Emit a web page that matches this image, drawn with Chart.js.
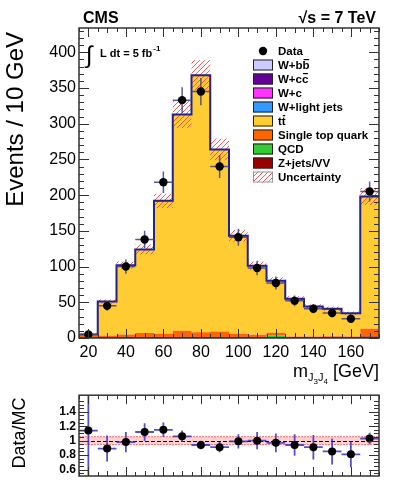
<!DOCTYPE html>
<html>
<head>
<meta charset="utf-8">
<script src="https://cdn.jsdelivr.net/npm/chart.js@4.4.1/dist/chart.umd.min.js"></script>
<style>
  html, body { margin: 0; padding: 0; background: #fff; }
  #wrap { position: relative; width: 399px; height: 487px; }
  #mainBox { position: absolute; left: 0; top: 0; width: 399px; height: 385px; }
  #ratioBox { position: absolute; left: 0; top: 385px; width: 399px; height: 102px; }
</style>
</head>
<body>
<div id="wrap">
  <div id="mainBox"><canvas id="mainChart"></canvas></div>
  <div id="ratioBox"><canvas id="ratioChart"></canvas></div>
</div>
<script>
// m_J3J4 distribution, 10 GeV bins (last bin = overflow)

const binEdges   = [15, 25, 35, 45, 55, 65, 75, 85, 95, 105, 115, 125, 135, 145, 155, 165, 175];
const binCenters = [20, 30, 40, 50, 60, 70, 80, 90, 100, 110, 120, 130, 140, 150, 160, 170];

// stacked MC components (bottom to top)
const zjetsVV   = [1, 1.5, 1.5, 1.5, 1.5, 1.5, 1.5, 1.5, 1.5, 1.5, 1.5, 1.5, 1.5, 1.5, 1.5, 2];
const qcd       = [0, 0, 0, 0, 0, 0, 0, 0, 0, 0, 2, 0, 0, 0, 0, 0];
const singleTop = [2, 1.5, 3.5, 5.5, 4.5, 8.5, 6.5, 7.5, 4.5, 3, 4, 0.5, 0.5, 1, 0.5, 11];
const ttbar     = [0.7, 46.7, 95.7, 115.7, 184.7, 301.7, 358.7, 253.7, 135.7, 95.2, 71.2, 51.7, 40.7, 37.2, 31.2, 183.7];
const wLight    = [0.5, 0.5, 0.5, 0.5, 0.5, 0.5, 0.5, 0.5, 0.5, 0.5, 0.5, 0.5, 0.5, 0.5, 0.5, 0.5];
const wc        = [0.2, 0.2, 0.2, 0.2, 0.2, 0.2, 0.2, 0.2, 0.2, 0.2, 0.2, 0.2, 0.2, 0.2, 0.2, 0.2];
const wcc       = [0.3, 0.3, 0.3, 0.3, 0.3, 0.3, 0.3, 0.3, 0.3, 0.3, 0.3, 0.3, 0.3, 0.3, 0.3, 0.3];
const wbb       = [0.3, 0.3, 0.3, 0.3, 0.3, 0.3, 0.3, 0.3, 0.3, 0.3, 0.3, 0.3, 0.3, 0.3, 0.3, 0.3];
const mcUnc     = [1, 3, 5, 7, 10, 19, 21, 15, 8, 6, 5, 3.5, 3, 3, 2.5, 12];

// data
const dataCounts = [5, 45, 100, 138, 218, 333, 345, 240, 141, 98, 77, 52, 41, 35, 27, 205];
const dataErr    = [2.5, 7, 10, 12, 15, 18, 19, 16, 12, 10, 9, 7.5, 6.5, 6, 5.5, 14];

// ratio panel
const ratioValues = [1.14, 0.89, 0.98, 1.12, 1.15, 1.06, 0.94, 0.91, 0.99, 1.0, 0.97, 0.94, 0.91, 0.85, 0.81, 1.03];
const ratioErr    = [1.2, 0.18, 0.14, 0.12, 0.1, 0.08, 0.06, 0.07, 0.1, 0.12, 0.13, 0.15, 0.17, 0.18, 0.18, 0.08];
const ratioBand   = 0.055;

// tick labels
const yTicks     = [0, 50, 100, 150, 200, 250, 300, 350, 400];
const xTicks     = [20, 40, 60, 80, 100, 120, 140, 160];
const ratioTicks = [0.6, 0.8, 1, 1.2, 1.4];

Chart.defaults.font.family = "'Liberation Sans', Arial, sans-serif";
Chart.defaults.color = '#000';
Chart.defaults.animation = false;

const FONT = "'Liberation Sans', Arial, sans-serif";

// components in stack order, with legend names and colours
const components = [
    { label: 'Z+jets/VV', values: zjetsVV, color: '#990000' },
    { label: 'QCD', values: qcd, color: '#33cc33' },
    { label: 'Single top quark', values: singleTop, color: '#ff6600' },
    { label: 'tt\u0305', values: ttbar, color: '#ffcc33' },
    { label: 'W+light jets', values: wLight, color: '#3399ff' },
    { label: 'W+c', values: wc, color: '#ff33ff' },
    { label: 'W+cc\u0305', values: wcc, color: '#660099' },
    { label: 'W+bb\u0305', values: wbb, color: '#ccccff' }
];

// cumulative sums -> stepped histogram points
let running = binCenters.map(() => 0);
const stackSets = components.map((c, idx) => {
    running = running.map((v, i) => v + c.values[i]);
    const pts = binEdges.slice(0, -1).map((e, i) => ({ x: e, y: running[i] }));
    pts.push({ x: binEdges[binEdges.length - 1], y: running[running.length - 1] });
    return {
        label: c.label,
        data: pts,
        stepped: true,
        borderWidth: 0,
        borderColor: c.color,
        backgroundColor: c.color,
        fill: idx === 0 ? 'origin' : '-1',
        pointRadius: 0
    };
});
const totalMC = running.slice();

// hatch pattern for the uncertainty
function makeHatch() {
    const c = document.createElement('canvas');
    c.width = 5; c.height = 5;
    const g = c.getContext('2d');
    g.strokeStyle = 'rgba(255,70,70,0.9)';
    g.lineWidth = 1;
    g.beginPath();
    g.moveTo(0, 5); g.lineTo(5, 0);
    g.moveTo(-1, 1); g.lineTo(1, -1);
    g.moveTo(4, 6); g.lineTo(6, 4);
    g.stroke();
    return c;
}
const hatchCanvas = makeHatch();

// draw text with overlines for combining U+0305
function drawBarText(ctx, text, x, y) {
    let cx = x;
    const chars = Array.from(text);
    for (let i = 0; i < chars.length; i++) {
        const ch = chars[i];
        if (ch === '\u0305') continue;
        const w = ctx.measureText(ch).width;
        ctx.fillText(ch, cx, y);
        if (chars[i + 1] === '\u0305') {
            ctx.fillRect(cx + 1, y - 7, w - 1.5, 1.2);
        }
        cx += w;
    }
}

// inward ticks on the frame
function drawFrameTicks(ctx, area, xs, ys, xList, yList) {
    ctx.save();
    ctx.strokeStyle = '#333';
    ctx.lineWidth = 1;
    ctx.beginPath();
    xList.forEach(t => {
        const px = Math.round(xs.getPixelForValue(t.v)) + 0.5;
        ctx.moveTo(px, area.bottom); ctx.lineTo(px, area.bottom - t.len);
        ctx.moveTo(px, area.top); ctx.lineTo(px, area.top + t.len);
    });
    yList.forEach(t => {
        const py = Math.round(ys.getPixelForValue(t.v)) + 0.5;
        ctx.moveTo(area.left, py); ctx.lineTo(area.left + t.len, py);
        ctx.moveTo(area.right, py); ctx.lineTo(area.right - t.len, py);
    });
    ctx.stroke();
    ctx.lineWidth = 1.5;
    ctx.strokeRect(area.left, area.top, area.right - area.left, area.bottom - area.top);
    ctx.restore();
}

function xTickList() {
    const out = [];
    for (let v = 15; v <= 175; v += 5) {
        out.push({ v: v, len: v % 20 === 0 ? 9 : (v % 10 === 0 ? 5 : 4) });
    }
    return out;
}

const mainPlugin = {
    id: 'mainExtras',
    afterDatasetsDraw(chart) {
        const ctx = chart.ctx;
        const xs = chart.scales.x, ys = chart.scales.y;
        const area = chart.chartArea;
        ctx.save();
        ctx.beginPath();
        ctx.rect(area.left, area.top, area.right - area.left, area.bottom - area.top);
        ctx.clip();

        // uncertainty hatch
        ctx.fillStyle = ctx.createPattern(hatchCanvas, 'repeat');
        binCenters.forEach((c, i) => {
            const x0 = xs.getPixelForValue(binEdges[i]);
            const x1 = xs.getPixelForValue(binEdges[i + 1]);
            const y0 = ys.getPixelForValue(totalMC[i] + mcUnc[i]);
            const y1 = ys.getPixelForValue(totalMC[i] - mcUnc[i]);
            ctx.fillRect(x0, y0, x1 - x0, y1 - y0);
        });

        // total MC outline
        ctx.strokeStyle = '#22228c';
        ctx.lineWidth = 2;
        ctx.beginPath();
        binCenters.forEach((c, i) => {
            const x0 = xs.getPixelForValue(binEdges[i]);
            const x1 = xs.getPixelForValue(binEdges[i + 1]);
            const y = ys.getPixelForValue(totalMC[i]);
            if (i === 0) ctx.moveTo(x0, ys.getPixelForValue(0));
            ctx.lineTo(x0, y);
            ctx.lineTo(x1, y);
        });
        ctx.stroke();

        // data with error bars
        ctx.strokeStyle = 'rgba(70,70,150,0.9)';
        ctx.lineWidth = 1.5;
        binCenters.forEach((c, i) => {
            const px = xs.getPixelForValue(c);
            const py = ys.getPixelForValue(dataCounts[i]);
            ctx.beginPath();
            ctx.moveTo(xs.getPixelForValue(c - 5), py);
            ctx.lineTo(xs.getPixelForValue(c + 5), py);
            ctx.moveTo(px, ys.getPixelForValue(dataCounts[i] + dataErr[i]));
            ctx.lineTo(px, ys.getPixelForValue(dataCounts[i] - dataErr[i]));
            ctx.stroke();
        });
        ctx.fillStyle = '#000';
        binCenters.forEach((c, i) => {
            ctx.beginPath();
            ctx.arc(xs.getPixelForValue(c), ys.getPixelForValue(dataCounts[i]), 4.2, 0, Math.PI * 2);
            ctx.fill();
        });
        ctx.restore();

        // frame and ticks
        const yList = [];
        for (let v = 0; v <= 430; v += 10) yList.push({ v: v, len: v % 50 === 0 ? 10 : 5 });
        drawFrameTicks(ctx, area, xs, ys, xTickList(), yList);

        // legend
        ctx.save();
        ctx.font = 'bold 11.5px ' + FONT;
        ctx.textBaseline = 'middle';
        const legendRows = [{ label: 'Data', kind: 'dot' }]
            .concat(components.slice().reverse().map(c => ({ label: c.label, kind: 'box', color: c.color })))
            .concat([{ label: 'Uncertainty', kind: 'hatch' }]);
        legendRows.forEach((r, i) => {
            const yc = 51 + 14 * i;
            if (r.kind === 'dot') {
                ctx.fillStyle = '#000';
                ctx.beginPath();
                ctx.arc(263, yc, 4.2, 0, Math.PI * 2);
                ctx.fill();
            } else {
                ctx.fillStyle = r.kind === 'hatch' ? ctx.createPattern(hatchCanvas, 'repeat') : r.color;
                ctx.fillRect(253, yc - 5.5, 20, 11);
                ctx.strokeStyle = r.kind === 'hatch' ? '#999' : '#222';
                ctx.lineWidth = 1;
                ctx.strokeRect(253.5, yc - 5, 19, 10);
            }
            ctx.fillStyle = '#000';
            drawBarText(ctx, r.label, 278, yc + 1);
        });
        ctx.restore();

        // annotations
        ctx.save();
        ctx.fillStyle = '#000';
        ctx.textBaseline = 'alphabetic';
        ctx.font = 'bold 16px ' + FONT;
        ctx.textAlign = 'left';
        ctx.fillText('CMS', 83, 23);
        ctx.textAlign = 'right';
        ctx.fillText('\u221As = 7 TeV', 376, 23);
        ctx.textAlign = 'left';
        ctx.font = '24px ' + FONT;
        ctx.fillText('\u222B', 86, 63);
        ctx.font = 'bold 11px ' + FONT;
        ctx.fillText('L dt = 5 fb', 100, 57);
        const w = ctx.measureText('L dt = 5 fb').width;
        ctx.font = 'bold 8px ' + FONT;
        ctx.fillText('-1', 100 + w + 1, 51);

        // y title
        ctx.save();
        ctx.translate(23, 32);
        ctx.rotate(-Math.PI / 2);
        ctx.font = '24px ' + FONT;
        ctx.textAlign = 'right';
        ctx.fillText('Events / 10 GeV', 0, 0);
        ctx.restore();

        // x title: m_{J3J4} [GeV], right aligned
        const parts = [
            { t: 'm', f: '18px ', dy: 0 },
            { t: 'J', f: '11px ', dy: 4 },
            { t: '3', f: '8px ', dy: 7 },
            { t: 'J', f: '11px ', dy: 4 },
            { t: '4', f: '8px ', dy: 7 },
            { t: ' [GeV]', f: '18px ', dy: 0 }
        ];
        let total = 0;
        parts.forEach(p => { ctx.font = p.f + FONT; p.w = ctx.measureText(p.t).width; total += p.w; });
        let cx = 379 - total;
        ctx.textAlign = 'left';
        parts.forEach(p => { ctx.font = p.f + FONT; ctx.fillText(p.t, cx, 377 + p.dy); cx += p.w; });
        ctx.restore();
    }
};

const mainChart = new Chart(document.getElementById('mainChart').getContext('2d'), {
    type: 'line',
    data: { datasets: stackSets },
    plugins: [mainPlugin],
    options: {
        responsive: true,
        maintainAspectRatio: false,
        layout: { padding: { left: 0, right: 20, top: 28, bottom: 0 } },
        plugins: { legend: { display: false }, tooltip: { enabled: false } },
        scales: {
            x: {
                type: 'linear',
                min: 15, max: 175,
                grid: { display: false, drawTicks: false },
                border: { display: false },
                afterBuildTicks: s => { s.ticks = xTicks.map(v => ({ value: v })); },
                afterFit: s => { s.height = 47; },
                ticks: { font: { size: 16 }, padding: 5, maxRotation: 0, autoSkip: false }
            },
            y: {
                type: 'linear',
                min: 0, max: 434,
                grid: { display: false, drawTicks: false },
                border: { display: false },
                afterBuildTicks: s => { s.ticks = yTicks.map(v => ({ value: v })); },
                afterFit: s => { s.width = 79; },
                ticks: { font: { size: 16 }, padding: 3 }
            }
        }
    }
});

// Ratio panel

const ratioPlugin = {
    id: 'ratioExtras',
    afterDatasetsDraw(chart) {
        const ctx = chart.ctx;
        const xs = chart.scales.x, ys = chart.scales.y;
        const area = chart.chartArea;
        ctx.save();
        ctx.beginPath();
        ctx.rect(area.left, area.top, area.right - area.left, area.bottom - area.top);
        ctx.clip();

        // MC uncertainty band around 1
        const yb0 = ys.getPixelForValue(1 + ratioBand);
        const yb1 = ys.getPixelForValue(1 - ratioBand);
        ctx.fillStyle = 'rgba(255,120,120,0.35)';
        ctx.fillRect(area.left, yb0, area.right - area.left, yb1 - yb0);
        ctx.strokeStyle = 'rgba(255,60,60,0.7)';
        ctx.lineWidth = 1;
        ctx.setLineDash([2, 1]);
        ctx.beginPath();
        ctx.moveTo(area.left, yb0); ctx.lineTo(area.right, yb0);
        ctx.moveTo(area.left, yb1); ctx.lineTo(area.right, yb1);
        ctx.stroke();
        ctx.strokeStyle = '#000';
        ctx.setLineDash([4, 2]);
        const y1 = Math.round(ys.getPixelForValue(1)) + 0.5;
        ctx.beginPath();
        ctx.moveTo(area.left, y1); ctx.lineTo(area.right, y1);
        ctx.stroke();
        ctx.setLineDash([]);

        // points with error bars
        ctx.strokeStyle = 'rgba(50,50,200,0.85)';
        ctx.lineWidth = 1.8;
        binCenters.forEach((c, i) => {
            const px = xs.getPixelForValue(c);
            const py = ys.getPixelForValue(ratioValues[i]);
            ctx.beginPath();
            ctx.moveTo(xs.getPixelForValue(c - 5), py);
            ctx.lineTo(xs.getPixelForValue(c + 5), py);
            ctx.moveTo(px, ys.getPixelForValue(ratioValues[i] + ratioErr[i]));
            ctx.lineTo(px, ys.getPixelForValue(ratioValues[i] - ratioErr[i]));
            ctx.stroke();
        });
        ctx.fillStyle = '#000';
        binCenters.forEach((c, i) => {
            ctx.beginPath();
            ctx.arc(xs.getPixelForValue(c), ys.getPixelForValue(ratioValues[i]), 4, 0, Math.PI * 2);
            ctx.fill();
        });
        ctx.restore();

        const yList = [];
        for (let v = 0.55; v <= 1.6; v += 0.05) {
            const r = Math.round(v * 100) / 100;
            yList.push({ v: r, len: Math.round(r * 100) % 20 === 0 ? 10 : 5 });
        }
        drawFrameTicks(ctx, area, xs, ys, xTickList(), yList);

        ctx.save();
        ctx.fillStyle = '#000';
        ctx.translate(25, 433 - 385);
        ctx.rotate(-Math.PI / 2);
        ctx.font = '18px ' + FONT;
        ctx.textAlign = 'center';
        ctx.fillText('Data/MC', 0, 0);
        ctx.restore();
    }
};

const ratioChart = new Chart(document.getElementById('ratioChart').getContext('2d'), {
    type: 'scatter',
    data: { datasets: [{ label: 'Data/MC', data: binCenters.map((c, i) => ({ x: c, y: ratioValues[i] })), pointRadius: 0 }] },
    plugins: [ratioPlugin],
    options: {
        responsive: true,
        maintainAspectRatio: false,
        layout: { padding: { left: 0, right: 20, top: 5, bottom: 0 } },
        plugins: { legend: { display: false }, tooltip: { enabled: false } },
        scales: {
            x: {
                type: 'linear',
                min: 15, max: 175,
                grid: { display: false, drawTicks: false },
                border: { display: false },
                ticks: { display: false },
                afterFit: s => { s.height = 11; }
            },
            y: {
                type: 'linear',
                min: 0.51, max: 1.63,
                grid: { display: false, drawTicks: false },
                border: { display: false },
                afterBuildTicks: s => { s.ticks = ratioTicks.map(v => ({ value: v })); },
                afterFit: s => { s.width = 79; },
                ticks: { font: { size: 12, weight: 'bold' }, padding: 3, callback: v => String(v) }
            }
        }
    }
});
</script>
</body>
</html>
